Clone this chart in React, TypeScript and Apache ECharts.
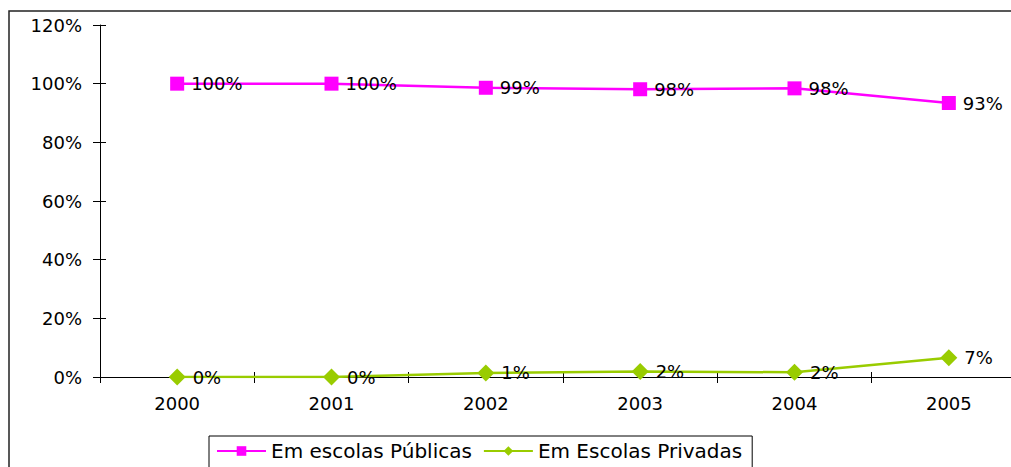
import React, { useEffect, useRef } from "react";
import * as echarts from "echarts";

const categories = ["2000", "2001", "2002", "2003", "2004", "2005"];
const publicas = [100, 100, 98.6, 98.1, 98.4, 93.4];
const privadas = [0, 0, 1.4, 1.9, 1.6, 6.6];
const yTicks = [0, 20, 40, 60, 80, 100, 120];
const seriesNames = ["Em escolas Públicas", "Em Escolas Privadas"];

const FONT = "DejaVu Sans, Arial, sans-serif";

export default function App() {
  const ref = useRef<HTMLDivElement>(null);
  useEffect(() => {
    document.body.style.margin = "0";
    const chart = echarts.init(ref.current!, undefined, { renderer: "svg" });
    const labelStyle = {
      show: true,
      position: "right" as const,
      distance: 7,
      color: "#000",
      fontSize: 18,
      fontFamily: FONT,
      formatter: (p: any) => Math.round(p.value) + "%",
    };
    chart.setOption({
      animation: false,
      textStyle: { fontFamily: FONT },
      grid: { left: 100, top: 25, width: 926, height: 352, containLabel: false },
      graphic: [
        {
          type: "rect",
          shape: { x: 9, y: 11, width: 1100, height: 600 },
          style: { fill: "none", stroke: "#222", lineWidth: 1.5 },
          silent: true,
          z: -1,
        },
      ],
      legend: {
        left: 209,
        top: 436,
        data: seriesNames,
        itemWidth: 49,
        itemHeight: 12,
        itemGap: 11,
        padding: [5, 10, 12, 7],
        borderColor: "#000",
        borderWidth: 1,
        textStyle: { fontSize: 20, color: "#000", fontFamily: FONT },
      },
      xAxis: [
        {
          type: "category",
          data: categories,
          boundaryGap: true,
          axisLine: { lineStyle: { color: "#000", width: 1 } },
          axisTick: { show: true, length: 6, lineStyle: { color: "#000" } },
          axisLabel: { color: "#000", fontSize: 18, margin: 17, fontFamily: FONT },
          splitLine: { show: false },
        },
        {
          type: "category",
          data: categories,
          position: "bottom",
          boundaryGap: true,
          axisLine: { show: false },
          axisTick: { show: true, inside: true, length: 5, lineStyle: { color: "#000" } },
          axisLabel: { show: false },
          splitLine: { show: false },
        },
      ],
      yAxis: [
        {
          type: "value",
          min: 0,
          max: 120,
          interval: 20,
          axisLine: { show: true, lineStyle: { color: "#000", width: 1 } },
          axisTick: { show: true, length: 7, lineStyle: { color: "#000" } },
          axisLabel: {
            color: "#000",
            fontSize: 18,
            margin: 18,
            fontFamily: FONT,
            formatter: (v: number) => (yTicks.includes(v) ? v + "%" : ""),
          },
          splitLine: { show: false },
        },
        {
          type: "value",
          min: 0,
          max: 120,
          interval: 20,
          position: "left",
          axisLine: { show: false },
          axisTick: { show: true, inside: true, length: 6, lineStyle: { color: "#000" } },
          axisLabel: { show: false },
          splitLine: { show: false },
        },
      ],
      series: [
        {
          name: seriesNames[0],
          type: "line",
          data: publicas,
          symbol: "rect",
          symbolSize: 14,
          lineStyle: { color: "#FF00FF", width: 2.5 },
          itemStyle: { color: "#FF00FF" },
          label: labelStyle,
        },
        {
          name: seriesNames[1],
          type: "line",
          data: privadas,
          symbol: "diamond",
          symbolSize: 17,
          lineStyle: { color: "#99CC00", width: 2.5 },
          itemStyle: { color: "#99CC00" },
          label: labelStyle,
        },
      ],
    });
    return () => chart.dispose();
  }, []);
  return (
    <div style={{ width: 1011, height: 467, overflow: "hidden" }}>
      <div ref={ref} style={{ width: 1050, height: 467 }} />
    </div>
  );
}
